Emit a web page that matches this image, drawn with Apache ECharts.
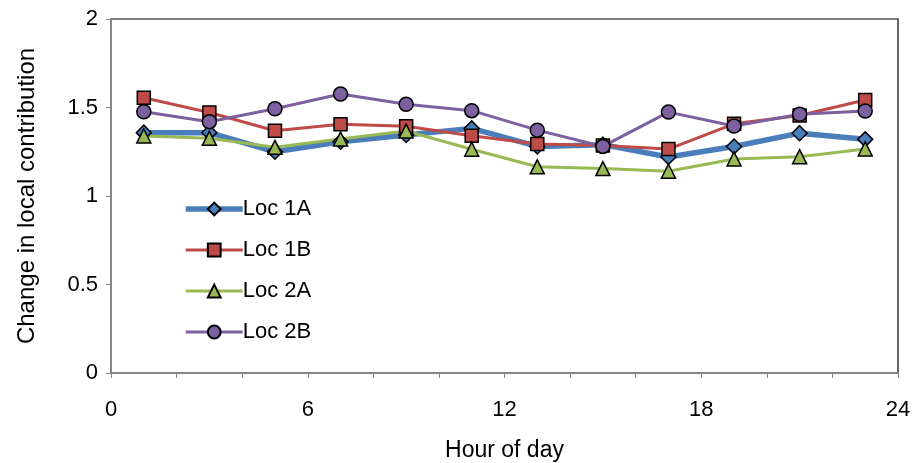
<!DOCTYPE html>
<html>
<head>
<meta charset="utf-8">
<script src="https://cdn.jsdelivr.net/npm/echarts@6/dist/echarts.min.js"></script>
<style>
html,body{margin:0;padding:0;background:#fff;}
#main{width:917px;height:463px;}
</style>
</head>
<body>
<div id="main"></div>
<script>
// hours of day (x) and series values
var hours = [1, 3, 5, 7, 9, 11, 13, 15, 17, 19, 21, 23];
var loc1A = [1.358, 1.358, 1.25, 1.307, 1.345, 1.382, 1.28, 1.29, 1.22, 1.28, 1.355, 1.32];
var loc1B = [1.555, 1.472, 1.369, 1.405, 1.394, 1.341, 1.294, 1.285, 1.265, 1.408, 1.455, 1.542];
var loc2A = [1.339, 1.326, 1.275, 1.322, 1.367, 1.264, 1.165, 1.155, 1.14, 1.209, 1.222, 1.266];
var loc2B = [1.476, 1.42, 1.493, 1.576, 1.518, 1.482, 1.372, 1.28, 1.474, 1.395, 1.462, 1.48];

function pairs(vals){
	var out = [];
	for (var i = 0; i < hours.length; i++) out.push([hours[i], vals[i]]);
	return out;
}

var font = 'Liberation Sans, Arial, sans-serif';

function line(name, vals, color, width, symbol, size){
	return {
		name: name,
		type: 'line',
		data: pairs(vals),
		symbol: symbol,
		symbolSize: size,
		showAllSymbol: true,
		lineStyle: {color: color, width: width},
		itemStyle: {color: color, borderColor: '#000', borderWidth: 1.5},
		emphasis: {disabled: true}
	};
}

var myChart = echarts.init(document.getElementById('main'));
myChart.setOption({
	animation: false,
	grid: {
		left: 111, right: 19, top: 19, bottom: 90,
		containLabel: false,
		outerBoundsMode: 'none',
		show: true, borderColor: '#000', borderWidth: 1.2
	},
	legend: {
		orient: 'vertical',
		left: 178, top: 193,
		itemWidth: 57, itemHeight: 16,
		itemGap: 19,
		lineStyle: {width: 'inherit'},
		textStyle: {fontFamily: font, fontSize: 22, color: '#000', padding: [0, 0, 0, -5]},
		data: ['Loc 1A', 'Loc 1B', 'Loc 2A', 'Loc 2B']
	},
	xAxis: {
		type: 'value',
		min: 0, max: 24, interval: 6,
		name: 'Hour of day',
		nameLocation: 'middle',
		nameGap: 66,
		nameTextStyle: {fontFamily: font, fontSize: 23, color: '#000'},
		axisLine: {lineStyle: {color: '#868686', width: 2}},
		axisTick: {length: 5, lineStyle: {color: '#868686', width: 1}},
		minorTick: {show: true, splitNumber: 3, length: 5, lineStyle: {color: '#868686', width: 1}},
		axisLabel: {fontFamily: font, fontSize: 22, color: '#000', margin: 26},
		splitLine: {show: false}
	},
	yAxis: {
		type: 'value',
		min: 0, max: 2, interval: 0.5,
		name: 'Change in local contribution',
		nameLocation: 'middle',
		nameGap: 72,
		nameTextStyle: {fontFamily: font, fontSize: 24, color: '#000'},
		axisLine: {show: true, lineStyle: {color: '#868686', width: 2}},
		axisTick: {show: true, length: 5, lineStyle: {color: '#868686', width: 1}},
		axisLabel: {fontFamily: font, fontSize: 22, color: '#000', margin: 13},
		splitLine: {show: false}
	},
	series: [
		line('Loc 1A', loc1A, '#4A7EBB', 5.5, 'diamond', 15),
		line('Loc 1B', loc1B, '#BE4B48', 3, 'rect', 13),
		line('Loc 2A', loc2A, '#98B954', 3, 'triangle', 14),
		line('Loc 2B', loc2B, '#7D60A0', 3, 'circle', 14)
	]
});
</script>
</body>
</html>
